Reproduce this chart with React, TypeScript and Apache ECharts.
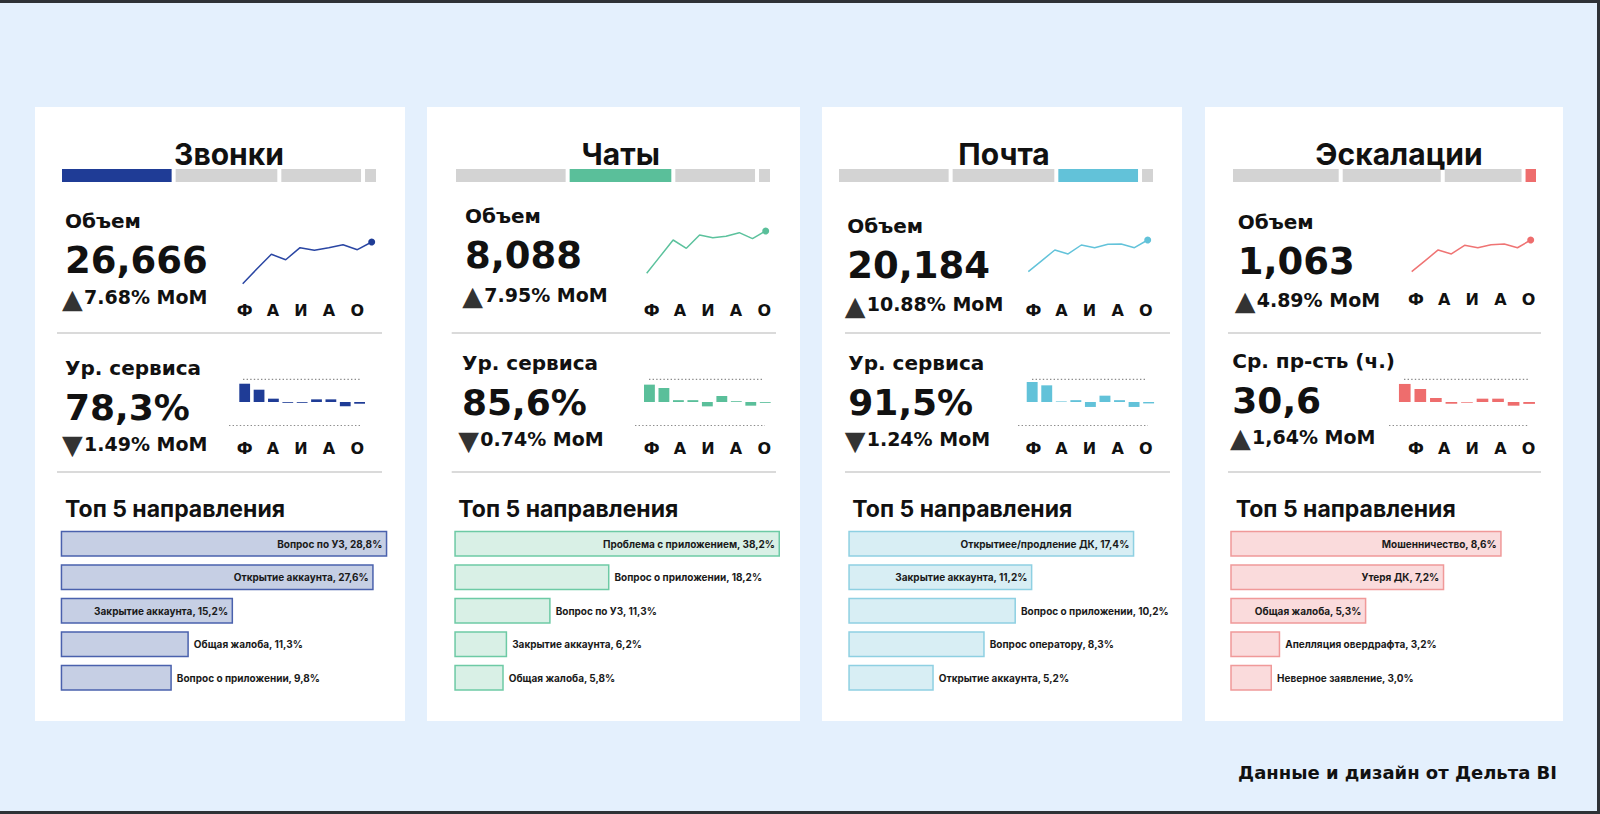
import React, { useEffect, useRef } from "react";
import * as echarts from "echarts";

// ---------------- data ----------------
const channelNames = ["Звонки", "Чаты", "Почта", "Эскалации"];
const channelShare = [35.7, 33.2, 26.3, 4.7];
const lineMonths = ["Я", "Ф", "М", "А", "М", "И", "И", "А", "С", "О"];
const barMonths = ["Ф", "М", "А", "М", "И", "И", "А", "С", "О"];

const callsVolume = [16370, 20070, 23630, 22290, 25260, 24620, 25260, 26000, 24764, 26666];
const chatsVolume = [4810, 6100, 7390, 6750, 7780, 7570, 7680, 7960, 7492, 8088];
const mailVolume = [12040, 14840, 17610, 16590, 18900, 18200, 19080, 19160, 18203, 20184];
const escalVolume = [859, 929, 999, 973, 1029, 1013, 1033, 1037, 1013, 1063];
const volumeMoM = [7.68, 7.95, 10.88, 4.89];

const serviceTitles = ["Ур. сервиса", "Ур. сервиса", "Ур. сервиса", "Ср. пр-сть (ч.)"];
const serviceValues = [78.3, 85.6, 91.5, 30.6];
const serviceUnits = ["%", "%", "%", ""];
const serviceMoM = [-1.49, -0.74, -1.24, 1.64];
const callsServiceDelta = [15.9, 10.7, 2.9, -0.7, -0.7, 2.3, 2.3, -3.7, -1.5];
const chatsServiceDelta = [15.1, 12.2, 1.6, 1.6, -3.8, 5.2, 0.7, -3.2, -0.74];
const mailServiceDelta = [17.4, 14.5, 0.5, 1.6, -4.3, 5.5, 1.6, -4.3, -1.24];
const escalServiceDelta = [15.7, 11.3, 3.5, -1.5, -0.6, 2.9, 2.9, -3.2, -1.64];

const callsTopNames = ["Вопрос по УЗ", "Открытие аккаунта", "Закрытие аккаунта", "Общая жалоба", "Вопрос о приложении"];
const callsTopValues = [28.8, 27.6, 15.2, 11.3, 9.8];
const chatsTopNames = ["Проблема с приложением", "Вопрос о приложении", "Вопрос по УЗ", "Закрытие аккаунта", "Общая жалоба"];
const chatsTopValues = [38.2, 18.2, 11.3, 6.2, 5.8];
const mailTopNames = ["Открытиее/продление ДК", "Закрытие аккаунта", "Вопрос о приложении", "Вопрос оператору", "Открытие аккаунта"];
const mailTopValues = [17.4, 11.2, 10.2, 8.3, 5.2];
const escalTopNames = ["Мошенничество", "Утеря ДК", "Общая жалоба", "Апелляция овердрафта", "Неверное заявление"];
const escalTopValues = [8.6, 7.2, 5.3, 3.2, 3.0];

const volumes = [callsVolume, chatsVolume, mailVolume, escalVolume];
const serviceDeltas = [callsServiceDelta, chatsServiceDelta, mailServiceDelta, escalServiceDelta];
const topNames = [callsTopNames, chatsTopNames, mailTopNames, escalTopNames];
const topValues = [callsTopValues, chatsTopValues, mailTopValues, escalTopValues];

// ---------------- styling / layout ----------------
const INTER = "Inter, 'DejaVu Sans', sans-serif";
const DJV = "'DejaVu Sans', sans-serif";
const INK = "#111111";

const palette = [
  { main: "#1F3C96", line: "#2A46A3", fill: "#C6CFE4", border: "#4A61AD" },
  { main: "#5ABF9A", line: "#5CC29D", fill: "#D9F0E6", border: "#6DCAA5" },
  { main: "#62C2D9", line: "#63C3DA", fill: "#D8EEF4", border: "#8ED0E2" },
  { main: "#EE6D6D", line: "#EF7474", fill: "#FADBDC", border: "#F09999" },
];

const layouts = [
  {
    cardX: 35, cardW: 370, titleX: 229, seg: [61, 377],
    volX: 65, volLblY: 221, volValY: 260, volMoMY: 297, triX: 63,
    line: [242.7, 371.7, 242, 283.7], lblX: 237.7, lineLblY: 310,
    div: [57, 382],
    svcX: 65, svcLblY: 367.5, svcValY: 407.5, svcMoMY: 443.7, svcTriX: 63,
    dotTop: [243, 360], dotBot: [229, 360], bars: [237.5, 129.3],
    topTitleX: 65, top: [60.7, 387.3], topMin: 0, inside: 3, sep: ".",
  },
  {
    cardX: 427, cardW: 373, titleX: 620.8, seg: [455, 771],
    volX: 465, volLblY: 216.3, volValY: 255.8, volMoMY: 294.5, triX: 463.3,
    line: [646.7, 765.7, 231, 273.3], lblX: 644.7, lineLblY: 310,
    div: [451.7, 776],
    svcX: 462, svcLblY: 362.5, svcValY: 402, svcMoMY: 439, svcTriX: 459.3,
    dotTop: [649, 764], dotBot: [635, 765], bars: [642.2, 130.3],
    topTitleX: 458.3, top: [454.3, 780], topMin: 0, inside: 1, sep: ".",
  },
  {
    cardX: 822, cardW: 360, titleX: 1004, seg: [838, 1154],
    volX: 847.3, volLblY: 225.8, volValY: 265, volMoMY: 304, triX: 845.7,
    line: [1028.3, 1147.7, 240, 271.7], lblX: 1026.3, lineLblY: 310,
    div: [845, 1170],
    svcX: 848.3, svcLblY: 363.3, svcValY: 402.5, svcMoMY: 439, svcTriX: 845.7,
    dotTop: [1032, 1147], dotBot: [1018, 1148], bars: [1024.9, 131],
    topTitleX: 852.3, top: [848.3, 1134.3], topMin: 0, inside: 2, sep: ".",
  },
  {
    cardX: 1205, cardW: 358, titleX: 1399, seg: [1232, 1537],
    volX: 1237.7, volLblY: 221.8, volValY: 261.2, volMoMY: 299.5, triX: 1235.7,
    line: [1411.7, 1530.7, 240, 271.7], lblX: 1409, lineLblY: 299,
    div: [1228, 1541],
    svcX: 1232.3, svcLblY: 361, svcValY: 400, svcMoMY: 436.7, svcTriX: 1231,
    dotTop: [1404, 1528], dotBot: [1389, 1529], bars: [1397, 139.9],
    topTitleX: 1235.7, top: [1231, 1501.7], topMin: 2, inside: 3, sep: ",",
  },
];

function txt(x: number, y: number, text: string, size: number, family: string, opts: any = {}) {
  return {
    type: "text",
    x,
    y,
    z: 20,
    silent: true,
    style: {
      text,
      fill: opts.fill || INK,
      fontSize: size,
      fontWeight: "bold",
      fontFamily: family,
      align: opts.align || "left",
      verticalAlign: "middle",
    },
  };
}

function buildOption() {
  const grids: any[] = [];
  const xAxes: any[] = [];
  const yAxes: any[] = [];
  const series: any[] = [];
  const graphics: any[] = [];

  const addGrid = (g: any, xa: any, ya: any) => {
    const idx = grids.length;
    grids.push({ ...g, containLabel: false });
    xAxes.push({ ...xa, gridIndex: idx });
    yAxes.push({ ...ya, gridIndex: idx });
    return idx;
  };

  const labelAxis = (lblX: number, y: number) =>
    addGrid(
      { left: lblX, width: 126.5, top: y - 11, height: 1 },
      {
        type: "category",
        data: barMonths,
        axisLine: { show: false },
        axisTick: { show: false },
        splitLine: { show: false },
        axisLabel: {
          interval: 1,
          margin: 10,
          verticalAlign: "middle",
          fontSize: 16,
          fontWeight: "bold",
          fontFamily: DJV,
          color: INK,
        },
      },
      { type: "value", show: false }
    );

  const shareTotal = channelShare.reduce((a, b) => a + b, 0);

  const mom = (triX: number, y: number, up: boolean, text: string) => {
    graphics.push(txt(triX - 1, y + 1, up ? "▲" : "▼", 27, DJV, { fill: "#333333" }));
    graphics.push(txt(triX + 21, y, text, 19, DJV));
  };

  channelNames.forEach((name, i) => {
    const L = layouts[i];
    const P = palette[i];

    // card
    graphics.push({
      type: "rect",
      z: -10,
      silent: true,
      shape: { x: L.cardX, y: 107, width: L.cardW, height: 614 },
      style: { fill: "#FFFFFF" },
    });

    // title
    graphics.push(txt(L.titleX, 154, name, 30, INTER, { align: "center" }));

    // segmented channel bar
    const gSeg = addGrid(
      { left: L.seg[0] - 1, width: L.seg[1] - L.seg[0] + 2, top: 167, height: 17 },
      { type: "value", min: 0, max: shareTotal, show: false },
      { type: "category", data: [""], show: false }
    );
    channelShare.forEach((v, k) => {
      series.push({
        type: "bar",
        stack: "seg" + i,
        xAxisIndex: gSeg,
        yAxisIndex: gSeg,
        data: [v],
        barWidth: 17,
        silent: true,
        itemStyle: { color: k === i ? P.main : "#D3D3D3", borderColor: "#FFFFFF", borderWidth: 2 },
      });
    });

    // volume block
    const vol = volumes[i];
    const last = vol[vol.length - 1];
    graphics.push(txt(L.volX, L.volLblY, "Объем", 20, DJV));
    graphics.push(txt(L.volX, L.volValY, last.toLocaleString("en-US"), 37, DJV));
    mom(L.triX, L.volMoMY, volumeMoM[i] >= 0, volumeMoM[i].toFixed(2) + "% MoM");

    const gLine = addGrid(
      { left: L.line[0], width: L.line[1] - L.line[0], top: L.line[2], height: L.line[3] - L.line[2] },
      { type: "category", data: lineMonths, boundaryGap: false, show: false },
      { type: "value", min: "dataMin", max: "dataMax", show: false }
    );
    series.push({
      type: "line",
      xAxisIndex: gLine,
      yAxisIndex: gLine,
      data: vol,
      clip: false,
      silent: true,
      symbol: "circle",
      showSymbol: true,
      showAllSymbol: true,
      symbolSize: (_v: any, p: any) => (p.dataIndex === vol.length - 1 ? 7 : 0),
      lineStyle: { color: P.line, width: 1.5 },
      itemStyle: { color: P.main },
    });
    labelAxis(L.lblX, L.lineLblY);

    // dividers
    [333, 472].forEach((y) =>
      graphics.push({
        type: "line",
        z: 5,
        silent: true,
        shape: { x1: L.div[0], y1: y, x2: L.div[1], y2: y },
        style: { stroke: "#DADADA", lineWidth: 2 },
      })
    );

    // service block
    graphics.push(txt(L.svcX, L.svcLblY, serviceTitles[i], 20, DJV));
    graphics.push(txt(L.svcX, L.svcValY, serviceValues[i].toFixed(1).replace(".", ",") + serviceUnits[i], 36, DJV));
    mom(
      L.svcTriX,
      L.svcMoMY,
      serviceMoM[i] >= 0,
      Math.abs(serviceMoM[i]).toFixed(2).replace(".", L.sep) + "% MoM"
    );

    [
      [L.dotTop, 379.3],
      [L.dotBot, 425.5],
    ].forEach(([xs, y]: any) =>
      graphics.push({
        type: "line",
        z: 5,
        silent: true,
        shape: { x1: xs[0], y1: y, x2: xs[1], y2: y },
        style: { stroke: "#8C8C8C", lineWidth: 1.2, lineDash: [1.4, 2.2] },
      })
    );

    const gSvc = addGrid(
      { left: L.bars[0], width: L.bars[1], top: 379, height: 46 },
      { type: "category", data: barMonths, show: false },
      { type: "value", min: -20, max: 20, show: false }
    );
    series.push({
      type: "bar",
      xAxisIndex: gSvc,
      yAxisIndex: gSvc,
      data: serviceDeltas[i],
      barWidth: "75%",
      silent: true,
      itemStyle: { color: P.main },
    });
    labelAxis(L.lblX, 448);

    // top 5
    graphics.push(txt(L.topTitleX, 508.7, "Топ 5 направления", 23, INTER));
    const names = topNames[i];
    const vals = topValues[i];
    const gTop = addGrid(
      { left: L.top[0], width: L.top[1] - L.top[0], top: 527, height: 167.5 },
      { type: "value", min: L.topMin, max: vals[0], show: false },
      { type: "category", data: names, inverse: true, show: false }
    );
    series.push({
      type: "bar",
      xAxisIndex: gTop,
      yAxisIndex: gTop,
      barWidth: 26,
      silent: true,
      data: vals.map((v, k) => ({
        value: v,
        label: { position: k < L.inside ? "insideRight" : "right", distance: 5 },
      })),
      itemStyle: { color: P.fill, borderColor: P.border, borderWidth: 1.5 },
      label: {
        show: true,
        formatter: (p: any) => `${names[p.dataIndex]}, ${Number(p.value).toFixed(1).replace(".", ",")}%`,
        fontSize: 10,
        fontWeight: "bold",
        fontFamily: INTER,
        color: "#1A1A1A",
      },
    });
  });

  // footer
  graphics.push(txt(1557, 772.7, "Данные и дизайн от Дельта BI", 18, DJV, { align: "right" }));

  // frame
  [
    { x: 0, y: 0, width: 1600, height: 3 },
    { x: 1597, y: 0, width: 3, height: 814 },
    { x: 0, y: 811, width: 1600, height: 3 },
  ].forEach((s) =>
    graphics.push({ type: "rect", z: 30, silent: true, shape: s, style: { fill: "#2E3236" } })
  );

  return {
    animation: false,
    backgroundColor: "#E4F0FD",
    grid: grids,
    xAxis: xAxes,
    yAxis: yAxes,
    series,
    graphic: graphics,
  };
}

export default function App() {
  const ref = useRef<HTMLDivElement>(null);
  useEffect(() => {
    if (!ref.current) return;
    const chart = echarts.init(ref.current, undefined, { renderer: "svg" });
    chart.setOption(buildOption() as any);
    return () => chart.dispose();
  }, []);
  return (
    <div
      ref={ref}
      style={{ position: "absolute", left: 0, top: 0, width: 1600, height: 814 }}
    />
  );
}
